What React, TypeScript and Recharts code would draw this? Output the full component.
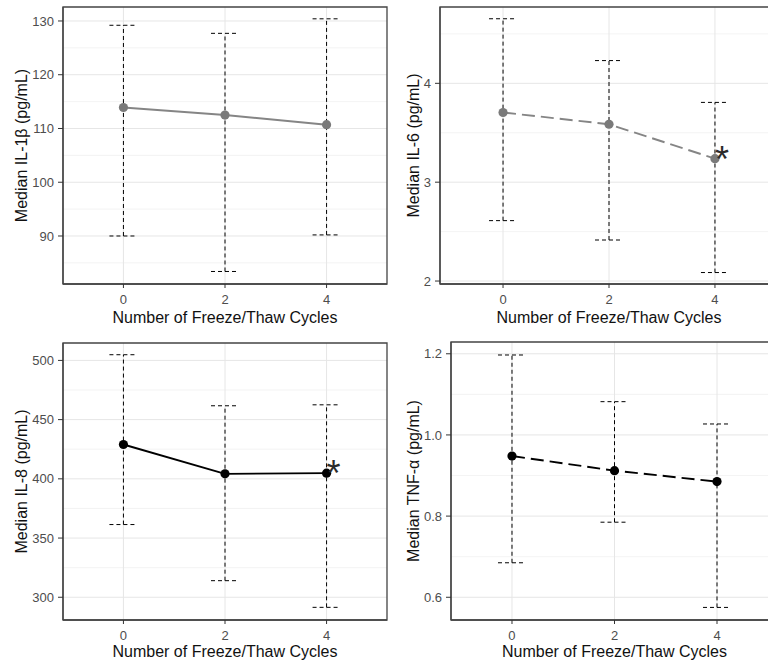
import React from "react";
import {
  ComposedChart,
  Line,
  XAxis,
  YAxis,
  CartesianGrid,
  ErrorBar,
  LabelList,
  ReferenceArea,
} from "recharts";

const FONT = "'Liberation Sans', Arial, Helvetica, sans-serif";

// Freeze/thaw cycles
const cycles = [0, 2, 4];
const xTicks = [0, 2, 4];
const xDomain: [number, number] = [-1.19, 5.19];

// IL-1β
const il1bMedian = [113.9, 112.5, 110.7];
const il1bLow = [90.0, 83.4, 90.2];
const il1bHigh = [129.2, 127.7, 130.4];
const il1bSig = ["", "", ""];
const il1bTicks = [90, 100, 110, 120, 130];
const il1bMinor = [85, 95, 105, 115, 125];

// IL-6
const il6Median = [3.705, 3.586, 3.238];
const il6Low = [2.611, 2.415, 2.086];
const il6High = [4.653, 4.23, 3.807];
const il6Sig = ["", "", "*"];
const il6Ticks = [2, 3, 4];
const il6Minor = [2.5, 3.5, 4.5];

// IL-8
const il8Median = [429, 404.2, 404.8];
const il8Low = [361.4, 314, 291.5];
const il8High = [504.8, 461.7, 462.5];
const il8Sig = ["", "", "*"];
const il8Ticks = [300, 350, 400, 450, 500];
const il8Minor = [325, 375, 425, 475];

// TNF-α
const tnfMedian = [0.948, 0.912, 0.885];
const tnfLow = [0.685, 0.785, 0.575];
const tnfHigh = [1.197, 1.082, 1.027];
const tnfSig = ["", "", ""];
const tnfTicks = [0.6, 0.8, 1.0, 1.2];
const tnfMinor = [0.7, 0.9, 1.1];

function buildRows(med: number[], low: number[], high: number[], sig: string[]) {
  return cycles.map((c, i) => ({
    x: c,
    y: med[i],
    err: [med[i] - low[i], high[i] - med[i]],
    star: sig[i],
  }));
}

type PanelProps = {
  left: number;
  top: number;
  width: number;
  height: number;
  margin: { top: number; right: number; left: number; bottom: number };
  yAxisWidth: number;
  xAxisHeight: number;
  rows: any[];
  yDomain: [number, number];
  yTicks: number[];
  yMinor: number[];
  yTitle: string;
  yTitleX: number;
  xTitleDy: number;
  color: string;
  dotColor: string;
  dashed: boolean;
  fmt?: (v: number) => string;
};

function Panel(p: PanelProps) {
  const StarLabel = (props: any) => {
    const { x, y, value } = props;
    if (!value) return null;
    return (
      <text
        x={x + 7}
        y={y + 13}
        textAnchor="middle"
        fontFamily={FONT}
        fontSize={36}
        fill="#2b2b2b"
      >
        {value}
      </text>
    );
  };
  return (
    <div style={{ position: "absolute", left: p.left, top: p.top }}>
      <ComposedChart width={p.width} height={p.height} data={p.rows} margin={p.margin}>
        <CartesianGrid
          horizontalValues={p.yMinor}
          vertical={false}
          stroke="#f0f0f0"
          strokeWidth={0.8}
        />
        <CartesianGrid
          horizontalValues={p.yTicks}
          verticalValues={xTicks}
          stroke="#e6e6e6"
          strokeWidth={1}
        />
        <XAxis
          dataKey="x"
          type="number"
          domain={xDomain}
          allowDataOverflow
          ticks={xTicks}
          height={p.xAxisHeight}
          tickSize={4}
          tickMargin={7}
          axisLine={{ stroke: "#444", strokeWidth: 1.3 }}
          tickLine={{ stroke: "#333" }}
          tick={{ fontSize: 13, fill: "#4d4d4d", fontFamily: FONT }}
          label={{
            content: (lp: any) => {
              const vb = lp.viewBox || {};
              return (
                <text
                  x={vb.x + vb.width / 2}
                  y={vb.y + p.xTitleDy}
                  textAnchor="middle"
                  fontFamily={FONT}
                  fontSize={16}
                  fill="#111"
                >
                  Number of Freeze/Thaw Cycles
                </text>
              );
            },
          }}
        />
        <YAxis
          type="number"
          domain={p.yDomain}
          allowDataOverflow
          ticks={p.yTicks}
          width={p.yAxisWidth}
          tickSize={5}
          tickMargin={4}
          tickFormatter={p.fmt}
          axisLine={{ stroke: "#444", strokeWidth: 1.3 }}
          tickLine={{ stroke: "#333" }}
          tick={{ fontSize: 13, fill: "#4d4d4d", fontFamily: FONT }}
          label={{
            content: (lp: any) => {
              const vb = lp.viewBox || {};
              const cx = p.yTitleX;
              const cy = vb.y + vb.height / 2;
              return (
                <text
                  x={cx}
                  y={cy}
                  transform={`rotate(-90, ${cx}, ${cy})`}
                  textAnchor="middle"
                  fontFamily={FONT}
                  fontSize={16}
                  fill="#111"
                >
                  {p.yTitle}
                </text>
              );
            },
          }}
        />
        <ReferenceArea
          x1={xDomain[0]}
          x2={xDomain[1]}
          y1={p.yDomain[0]}
          y2={p.yDomain[1]}
          fill="none"
          stroke="#444"
          strokeWidth={1.3}
          ifOverflow="visible"
        />
        <Line
          dataKey="y"
          type="linear"
          stroke={p.color}
          strokeWidth={1.9}
          strokeDasharray={p.dashed ? "13 6" : undefined}
          dot={{ r: 4.6, fill: p.dotColor, stroke: p.dotColor, strokeWidth: 0 }}
          activeDot={false}
          isAnimationActive={false}
        >
          <ErrorBar
            dataKey="err"
            direction="y"
            width={14}
            stroke="#000"
            strokeWidth={1}
            strokeDasharray="4 3"
            isAnimationActive={false}
          />
          <LabelList dataKey="star" content={StarLabel} />
        </Line>
      </ComposedChart>
    </div>
  );
}

export default function App() {
  return (
    <div
      style={{
        position: "absolute",
        left: 0,
        top: 0,
        width: 768,
        height: 667,
        overflow: "hidden",
        background: "#fff",
      }}
    >
      <Panel
        left={0}
        top={0}
        width={390}
        height={334}
        margin={{ top: 7, right: 3, left: 0, bottom: 0 }}
        yAxisWidth={63}
        xAxisHeight={50}
        rows={buildRows(il1bMedian, il1bLow, il1bHigh, il1bSig)}
        yDomain={[81.07, 132.6]}
        yTicks={il1bTicks}
        yMinor={il1bMinor}
        yTitle="Median IL-1β (pg/mL)"
        yTitleX={26.5}
        xTitleDy={38.7}
        color="#858585"
        dotColor="#7a7a7a"
        dashed={false}
      />
      <Panel
        left={384}
        top={0}
        width={400}
        height={334}
        margin={{ top: 7, right: 6, left: 0, bottom: 0 }}
        yAxisWidth={56}
        xAxisHeight={50}
        rows={buildRows(il6Median, il6Low, il6High, il6Sig)}
        yDomain={[1.97, 4.772]}
        yTicks={il6Ticks}
        yMinor={il6Minor}
        yTitle="Median IL-6 (pg/mL)"
        yTitleX={34.5}
        xTitleDy={38.7}
        color="#858585"
        dotColor="#7a7a7a"
        dashed={true}
      />
      <Panel
        left={0}
        top={334}
        width={390}
        height={333}
        margin={{ top: 9, right: 3, left: 0, bottom: 0 }}
        yAxisWidth={63}
        xAxisHeight={47}
        rows={buildRows(il8Median, il8Low, il8High, il8Sig)}
        yDomain={[280.8, 514.7]}
        yTicks={il8Ticks}
        yMinor={il8Minor}
        yTitle="Median IL-8 (pg/mL)"
        yTitleX={26.5}
        xTitleDy={37.3}
        color="#000"
        dotColor="#000"
        dashed={false}
      />
      <Panel
        left={384}
        top={334}
        width={400}
        height={333}
        margin={{ top: 8, right: 6, left: 0, bottom: 0 }}
        yAxisWidth={67}
        xAxisHeight={47}
        rows={buildRows(tnfMedian, tnfLow, tnfHigh, tnfSig)}
        yDomain={[0.544, 1.229]}
        yTicks={tnfTicks}
        yMinor={tnfMinor}
        yTitle="Median TNF-α (pg/mL)"
        yTitleX={34.5}
        xTitleDy={37.3}
        color="#000"
        dotColor="#000"
        dashed={true}
        fmt={(v: number) => v.toFixed(1)}
      />
    </div>
  );
}
